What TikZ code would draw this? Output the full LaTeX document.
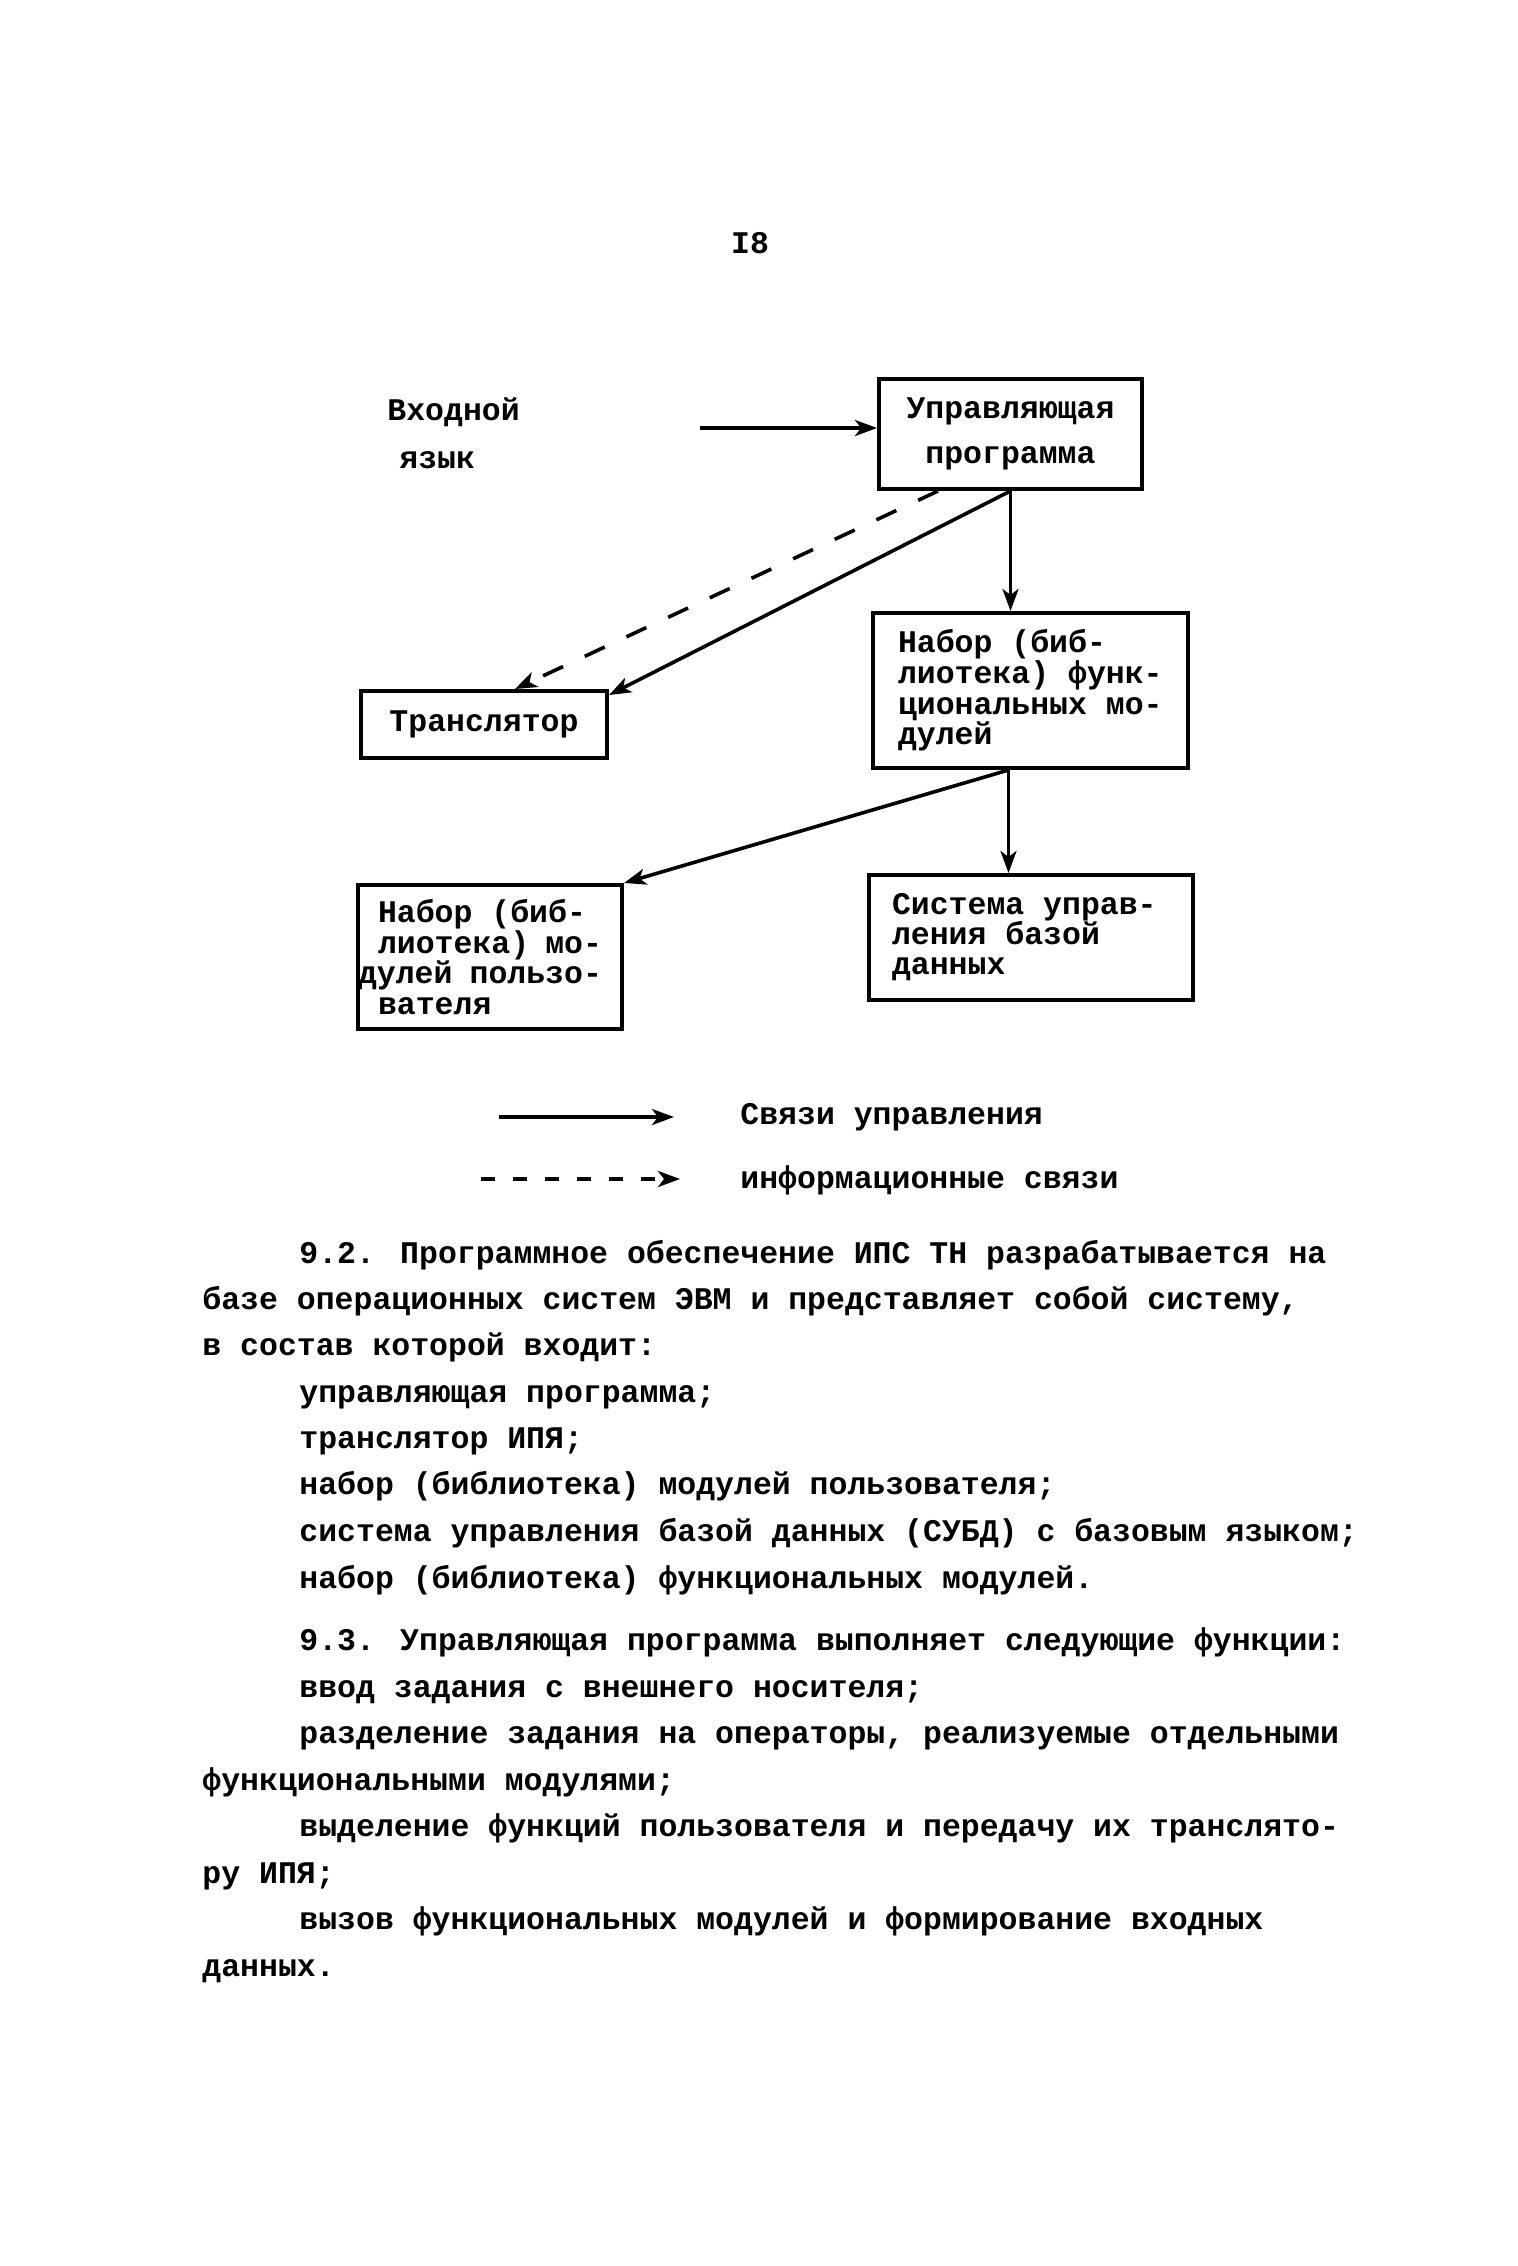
\documentclass[tikz,border=0pt]{standalone}
\usepackage{fontspec}
\setmainfont{Liberation Mono}
\usetikzlibrary{arrows.meta}
\newcommand{\mspc}{\spaceskip=0pt\xspaceskip=0pt\relax}
\tikzset{
  tw/.style={font=\bfseries\fontsize{15.75pt}{23.3pt}\selectfont, inner sep=0pt, anchor=base west},
  box/.style={draw, line width=2pt, inner sep=0pt, align=left,
    font=\bfseries\fontsize{15.75pt}{15.3pt}\selectfont},
  tipx/.style={-{Stealth[length=11pt,width=8pt,inset=3pt]}},
  ctrl/.style={line width=1.8pt, tipx},
  info/.style={line width=1.8pt, dash pattern=on 11pt off 12pt, tipx},
  infolg/.style={line width=1.8pt, dash pattern=on 7pt off 9pt, tipx},
}
\begin{document}
\begin{tikzpicture}[x=0.5pt, y=-0.5pt]
\useasboundingbox (0,0) rectangle (1518,2266);
\fill[white] (0,0) rectangle (1518,2266);

% page number
\node[tw, anchor=center] (pg) at (750,243) {I8};

% input label
\node[tw] (vin1) at (387,420) {Входной};
\node[tw] (vin2) at (399,468) {язык};
\coordinate (inp) at (700,428);

% boxes
\node[box, align=center, minimum width=131.5pt, minimum height=55pt,
      font=\bfseries\fontsize{15.75pt}{22.5pt}\selectfont] (upr) at (1010.5,434)
      {Управляющая\\программа};
\node[box, minimum width=157.5pt, minimum height=77.5pt, text width=132.5pt] (nfm) at (1030.5,690.5)
      {\mspc Набор (биб-\\лиотека) функ-\\циональных мо-\\дулей};
\node[box, align=center, minimum width=123pt, minimum height=33.5pt] (tr) at (484,724.5)
      {Транслятор};
\node[box, minimum width=132pt, minimum height=72pt, text width=112pt] (nfp) at (490,957)
      {\mspc Набор (биб-\\лиотека) мо-\\\hspace*{-10pt}дулей пользо-\\вателя};
\node[box, minimum width=162pt, minimum height=62.5pt, text width=139pt,
      font=\bfseries\fontsize{15.75pt}{15pt}\selectfont] (subd) at (1031,937.5)
      {\mspc Система управ-\\ления базой\\данных};

% connectors
\draw[ctrl] (inp) -- (inp -| upr.west);
\draw[ctrl] (upr.south) -- (nfm.north -| upr.south);
\draw[ctrl] (upr.south) -- ([yshift=-3pt]tr.north east);
\draw[info] ([xshift=30.5pt]upr.south west) -- ([xshift=15.5pt]tr.north);
\coordinate (nfs) at ([xshift=-11pt]nfm.south);
\draw[ctrl] (nfs) -- (nfp.north east);
\draw[ctrl] (nfs) -- (subd.north -| nfs);

% legend
\coordinate (la1) at (499,1117);
\coordinate (la2) at (674,1117);
\coordinate (lb1) at (481,1179);
\coordinate (lb2) at (680,1179);
\draw[ctrl] (la1) -- (la2);
\draw[infolg] (lb1) -- (lb2);
\node[tw] (lga) at (740,1124) {Связи управления};
\node[tw] (lgb) at (740,1188) {информационные связи};

% text
\node[tw] (p1) at (299,1263) {9.2. Программное обеспечение ИПС ТН разрабатывается на};
\node[tw] (p2) at (202,1309) {базе операционных систем ЭВМ и представляет собой систему,};
\node[tw] (p3) at (202,1355) {в состав которой входит:};
\node[tw] (p4) at (299,1402) {управляющая программа;};
\node[tw] (p5) at (299,1448) {транслятор ИПЯ;};
\node[tw] (p6) at (299,1494) {набор (библиотека) модулей пользователя;};
\node[tw] (p7) at (299,1541) {система управления базой данных (СУБД) с базовым языком;};
\node[tw] (p8) at (299,1588) {набор (библиотека) функциональных модулей.};
\node[tw] (q1) at (299,1650) {9.3. Управляющая программа выполняет следующие функции:};
\node[tw] (q2) at (299,1697) {ввод задания с внешнего носителя;};
\node[tw] (q3) at (299,1743) {разделение задания на операторы, реализуемые отдельными};
\node[tw] (q4) at (202,1790) {функциональными модулями;};
\node[tw] (q5) at (299,1836) {выделение функций пользователя и передачу их транслято-};
\node[tw] (q6) at (202,1883) {ру ИПЯ;};
\node[tw] (q7) at (299,1929) {вызов функциональных модулей и формирование входных};
\node[tw] (q8) at (202,1976) {данных.};
\end{tikzpicture}
\end{document}
